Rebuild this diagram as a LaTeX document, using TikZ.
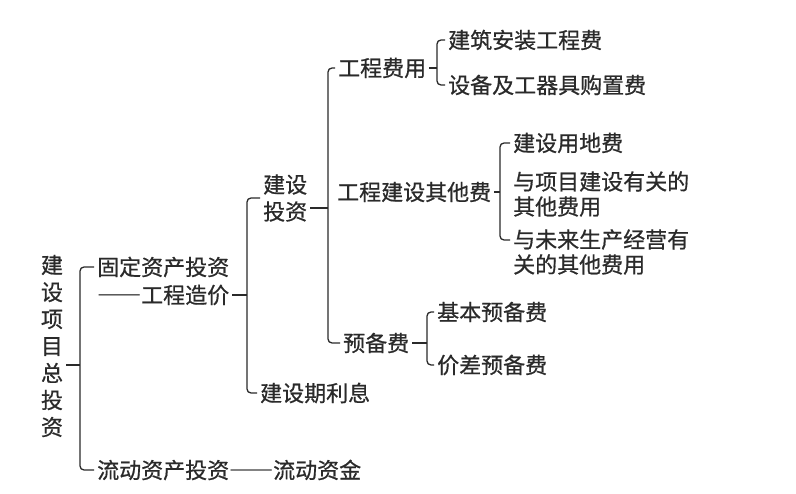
\documentclass[tikz,border=0pt]{standalone}
\usepackage{fontspec}
\newfontfamily\cjk[UprightFeatures={FakeBold=0.7}]{Noto Sans CJK SC}
\newcommand{\fwdash}{{\addfontfeatures{RawFeature=+fwid}——}}
\usepackage{tikz}
\definecolor{ink}{HTML}{2A2A2A}
\tikzset{
  txt/.style={anchor=west, inner xsep=3pt, inner ysep=0pt, text=ink,
    font={\cjk\fontsize{22}{25}\selectfont}, align=left},
  brace/.style={draw=ink, line width=1.3pt, rounded corners=4pt}
}
\begin{document}
\begin{tikzpicture}[x=1pt,y=-1pt]
\useasboundingbox (0,0) rectangle (796,494);
\node [txt, anchor=center, align=center, font={\cjk\fontsize{22}{27}\selectfont}] (xmzt) at (52,346) {建\\设\\项\\目\\总\\投\\资};
\node [txt] (gdzc) at (94,267) {固定资产投资};
\node [txt] (gczj) at (94,295) {\fwdash 工程造价};
\node [txt] (ldzc) at (94,470) {流动资产投资\fwdash 流动资金};
\node [txt, font={\cjk\fontsize{22}{27}\selectfont}] (jstz) at (260,198) {建设\\投资};
\node [txt] (jsql) at (257,393) {建设期利息};
\node [txt] (gcfy) at (335,68) {工程费用};
\node [txt] (qtf) at (334,192) {工程建设其他费};
\node [txt] (ybf) at (340,343) {预备费};
\node [txt] (jzaz) at (445,40) {建筑安装工程费};
\node [txt] (sbgq) at (445,85) {设备及工器具购置费};
\node [txt] (jsyd) at (510,143) {建设用地费};
\node [txt] (xmjs) at (510,194) {与项目建设有关的\\其他费用};
\node [txt] (wlsc) at (510,252) {与未来生产经营有\\关的其他费用};
\node [txt] (jbyb) at (434,312) {基本预备费};
\node [txt] (jcyb) at (434,365) {价差预备费};
\coordinate (b1) at (80,365);
\coordinate (b2) at (247,295);
\coordinate (b3) at (328,208);
\coordinate (b4) at (437,68);
\coordinate (b5) at (500,192);
\coordinate (b6) at (427,343);
\draw [brace] (gdzc.west) -| (b1) |- (ldzc.west);
\draw [brace] (xmzt.east |- b1) -- (b1);
\draw [brace] (jstz.west) -| (b2) |- (jsql.west);
\draw [brace] (gczj.east) -- (b2);
\draw [brace] (gcfy.west) -| (b3) |- (ybf.west);
\draw [brace] (jstz.east |- b3) -- (b3);
\draw [brace] (jzaz.west) -| (b4) |- (sbgq.west);
\draw [brace] (gcfy.east) -- (b4);
\draw [brace] (jsyd.west) -| (b5) |- ([yshift=12pt]wlsc.west);
\draw [brace] (qtf.east) -- (b5);
\draw [brace] (jbyb.west) -| (b6) |- (jcyb.west);
\draw [brace] (ybf.east) -- (b6);
\end{tikzpicture}
\end{document}
